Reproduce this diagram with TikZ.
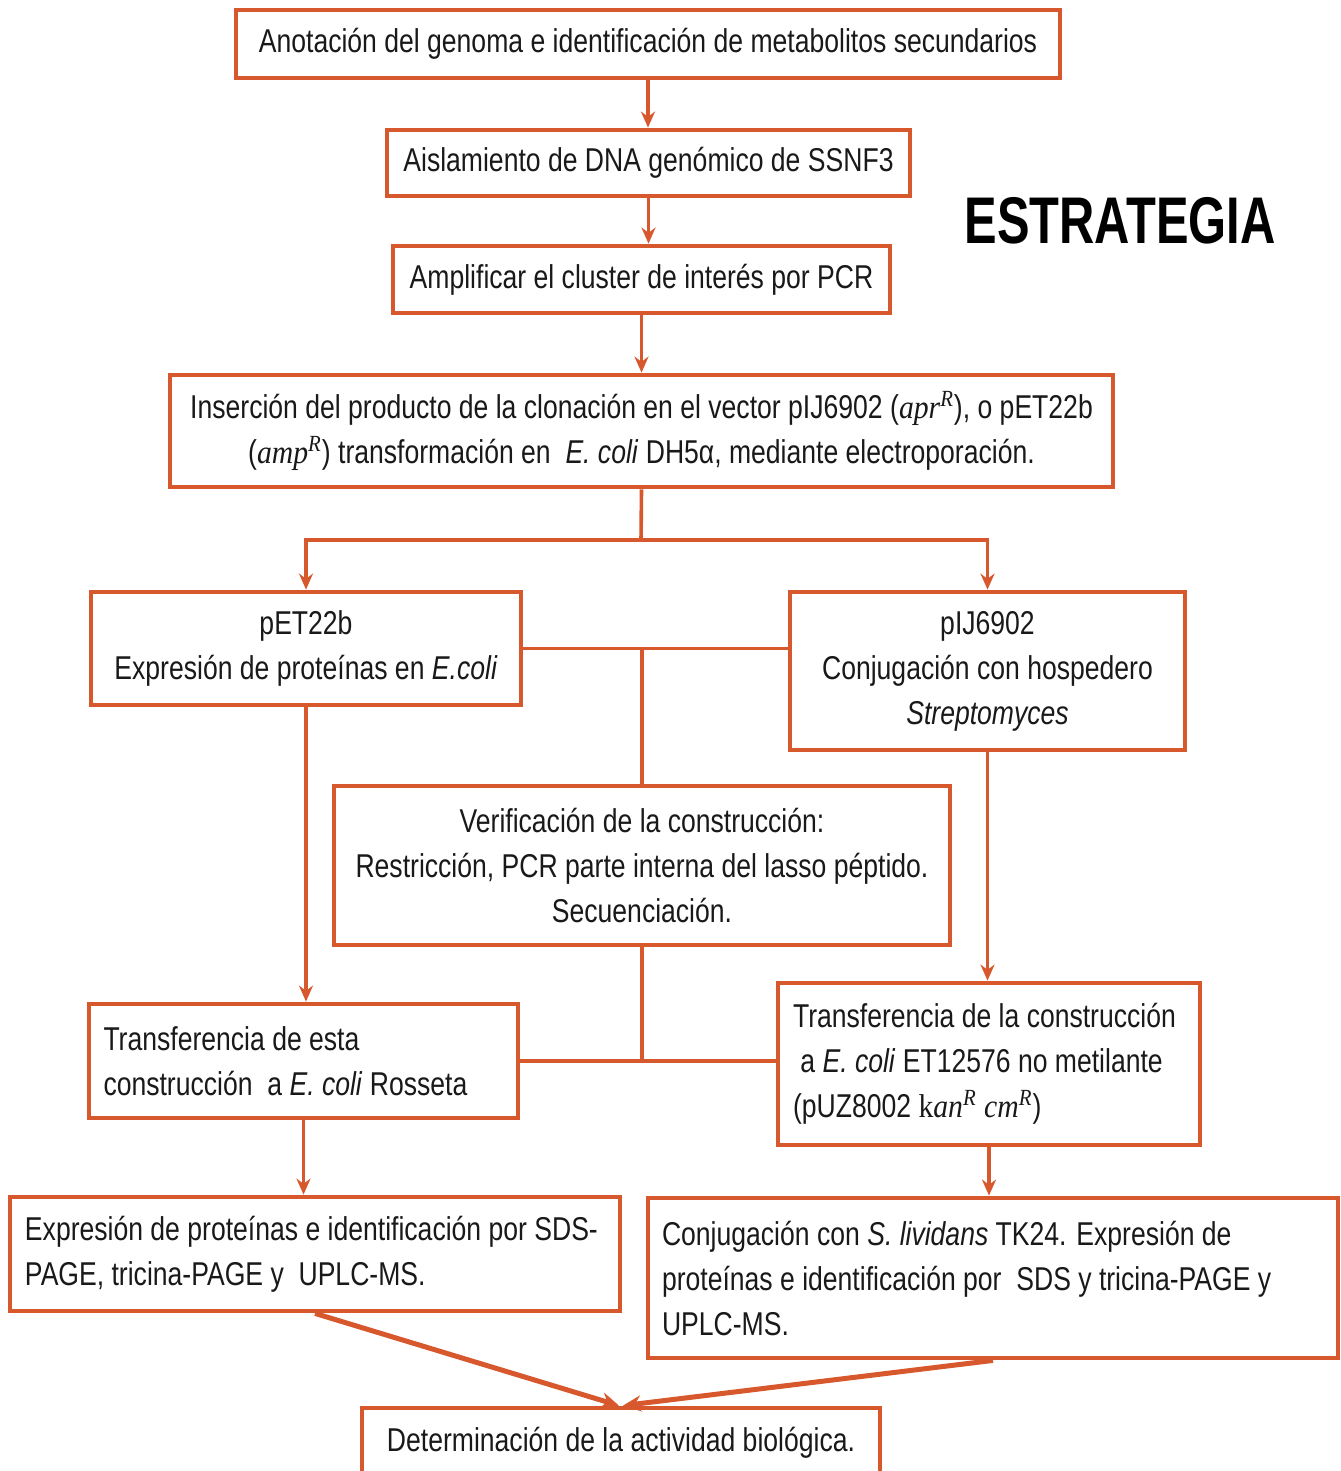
\documentclass[tikz,border=0pt]{standalone}
\usepackage{fontspec}
\setmainfont{Liberation Sans}[FakeStretch=0.805]
\newfontfamily\titlefont{Liberation Sans}[FakeStretch=0.74]
\newfontfamily\serifit{Liberation Serif}[FakeStretch=0.9]
\usetikzlibrary{arrows.meta,calc}
\definecolor{brd}{RGB}{214,88,44}
\definecolor{txt}{RGB}{25,25,25}
\newcommand{\mathish}[1]{{\serifit\itshape #1}}
\begin{document}
\begin{tikzpicture}[x=0.5pt,y=-0.5pt,
  box/.style={draw=brd, line width=2.4pt, fill=white, text=txt, inner sep=0pt,
    font=\fontsize{16.5}{22.5}\selectfont, align=center},
  lbox/.style={box, align=flush left},
  link/.style={draw=brd, line width=1.8pt},
  arr/.style={link, -{Stealth[length=8pt,width=7pt]}},
  thick link/.style={draw=brd, line width=2.5pt, -{Stealth[length=9pt,width=8pt]}}]
\useasboundingbox (0,0) rectangle (1340,1471);

\node[box, minimum width=412pt, minimum height=34pt] (n1) at (648,44)
  {Anotación del genoma e identificación de metabolitos secundarios};
\node[box, minimum width=261.5pt, minimum height=33pt] (n2) at (648.5,163)
  {Aislamiento de DNA genómico de SSNF3};
\node[box, minimum width=248.5pt, minimum height=33.5pt] (n3) at (641.5,279.5)
  {Amplificar el cluster de interés por PCR};
\node[box, minimum width=471.5pt, minimum height=56pt] (n4) at (641.5,431)
  {Inserción del producto de la clonación en el vector pIJ6902 (\mathish{apr\textsuperscript{R}}), o pET22b\\
   (\mathish{amp\textsuperscript{R}}) transformación en \ \textit{E. coli} DH5α, mediante electroporación.};
\node[box, minimum width=215pt, minimum height=56.5pt] (n5) at (306,648.5)
  {pET22b\\Expresión de proteínas en \textit{E.coli}};
\node[box, minimum width=197.5pt, minimum height=79pt] (n6) at (987.5,671)
  {pIJ6902\\Conjugación con hospedero\\\textit{Streptomyces}};
\node[box, minimum width=308pt, minimum height=79.5pt] (n7) at (642,865.5)
  {Verificación de la construcción:\\Restricción, PCR parte interna del lasso péptido.\\Secuenciación.};
\node[lbox, minimum width=214.5pt, minimum height=57pt, text width=200pt] (n8) at (303.5,1061)
  {Transferencia de esta\\construcción \ a \textit{E. coli} Rosseta};
\node[lbox, minimum width=211pt, minimum height=81pt, text width=196pt] (n9) at (989,1064)
  {Transferencia de la construcción\\\ a \textit{E. coli} ET12576 no metilante\\(pUZ8002 {\serifit k\itshape an\textsuperscript{R} cm\textsuperscript{R}})};
\node[lbox, minimum width=305pt, minimum height=57pt, text width=290pt] (n10) at (315,1254)
  {Expresión de proteínas e identificación por SDS-\\PAGE, tricina-PAGE y \ UPLC-MS.};
\node[lbox, minimum width=345pt, minimum height=80pt, text width=331pt] (n11) at (993,1278)
  {Conjugación con \textit{S. lividans} TK24. Expresión de\\proteínas e identificación por \ SDS y tricina-PAGE y\\UPLC-MS.};
\node[box, minimum width=259pt, minimum height=35pt] (n12) at (621,1443)
  {Determinación de la actividad biológica.};

\node[text=black, font=\titlefont\bfseries\fontsize{33}{36}\selectfont] (title) at (1120,221) {ESTRATEGIA};

% connectors
\draw[arr] (n1.south) -- (n1.south |- n2.north);
\draw[arr] (n2.south) -- (n2.south |- n3.north);
\draw[arr] (n3.south) -- (n3.south |- n4.north);
\coordinate (split) at (641,540);
\draw[link] (n4.south) -- (split);
\draw[arr] (split) -| (n5.north);
\draw[arr] (split) -| (n6.north);
\coordinate (vtop) at (642,648);
\draw[link] (n5.east) -- (n5.east -| n6.west);
\draw[link] (vtop) -- (vtop |- n7.north);
\draw[arr] (n5.south) -- (n5.south |- n8.north);
\draw[arr] (n6.south) -- (n6.south |- n9.north);
\coordinate (vbot) at (642,1060);
\draw[link] (n7.south) -- (vbot);
\draw[link] (n8.east) -- (n8.east -| n9.west);
\draw[arr] (n8.south) -- (n8.south |- n10.north);
\draw[arr] (n9.south) -- (n9.south |- n11.north);
\draw[thick link] (n10.south) -- ($(n12.north)+(-2,0)$);
\draw[thick link] (n11.south) -- ($(n12.north)+(2,0)$);
\end{tikzpicture}
\end{document}
